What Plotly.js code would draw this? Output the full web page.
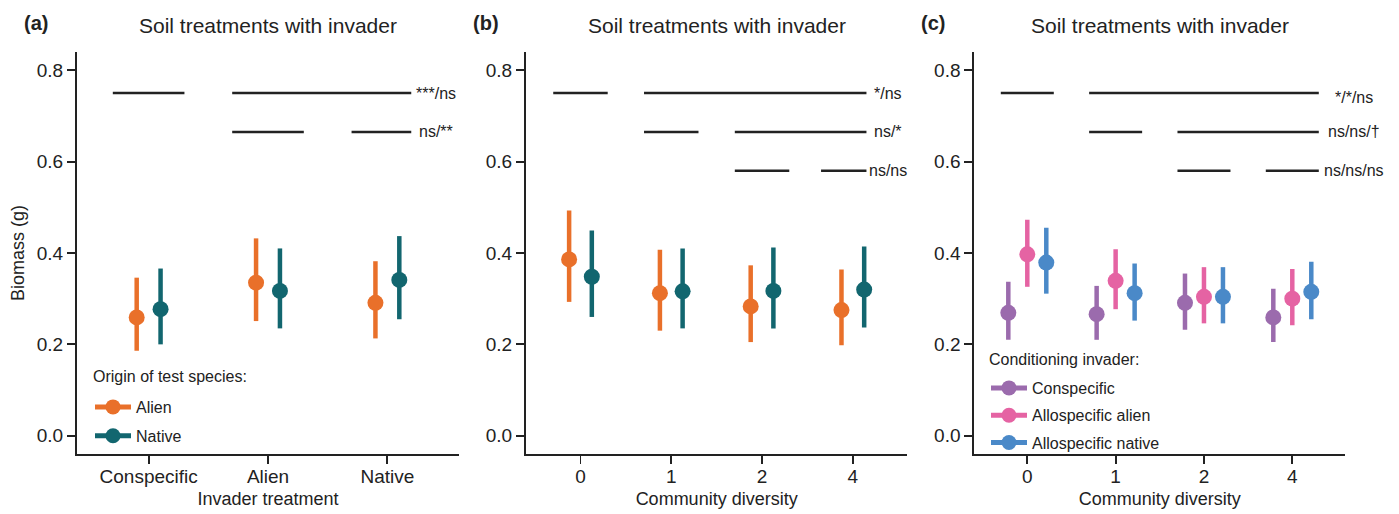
<!DOCTYPE html>
<html>
<head>
<meta charset="utf-8">
<script src="https://cdn.plot.ly/plotly-3.0.1.min.js"></script>
<style>html,body{margin:0;padding:0;background:#fff;}#chart{width:1399px;height:514px;}</style>
</head>
<body>
<div id="chart"></div>
<script>
// ---------- DATA ----------
const catsA = ['Conspecific', 'Alien', 'Native'];
const alienA_mean = [0.259, 0.335, 0.291];
const alienA_lo   = [0.186, 0.251, 0.213];
const alienA_hi   = [0.346, 0.432, 0.382];
const nativeA_mean = [0.277, 0.317, 0.341];
const nativeA_lo   = [0.200, 0.235, 0.255];
const nativeA_hi   = [0.366, 0.410, 0.437];

const catsB = ['0', '1', '2', '4'];
const alienB_mean = [0.386, 0.312, 0.283, 0.275];
const alienB_lo   = [0.293, 0.230, 0.205, 0.198];
const alienB_hi   = [0.493, 0.407, 0.373, 0.364];
const nativeB_mean = [0.348, 0.316, 0.317, 0.320];
const nativeB_lo   = [0.260, 0.235, 0.235, 0.237];
const nativeB_hi   = [0.449, 0.410, 0.412, 0.414];

const catsC = ['0', '1', '2', '4'];
const consC_mean = [0.269, 0.266, 0.291, 0.259];
const consC_lo   = [0.210, 0.210, 0.232, 0.205];
const consC_hi   = [0.337, 0.328, 0.355, 0.322];
const alienC_mean = [0.397, 0.339, 0.304, 0.300];
const alienC_lo   = [0.326, 0.277, 0.246, 0.242];
const alienC_hi   = [0.473, 0.408, 0.369, 0.365];
const nativeC_mean = [0.379, 0.312, 0.304, 0.315];
const nativeC_lo   = [0.311, 0.252, 0.246, 0.255];
const nativeC_hi   = [0.455, 0.377, 0.369, 0.381];

// significance brackets: level (biomass), segments (x from, x to), labels
const sigA_level = [0.75, 0.665];
const sigA_segs = [[[0.7, 1.3], [1.7, 3.2]], [[1.7, 2.3], [2.7, 3.2]]];
const sigA_labels = ['***/ns', 'ns/**'];
const sigB_level = [0.75, 0.665, 0.58];
const sigB_segs = [[[0.7, 1.3], [1.7, 4.15]], [[1.7, 2.3], [2.7, 4.15]], [[2.7, 3.3], [3.65, 4.15]]];
const sigB_labels = ['*/ns', 'ns/*', 'ns/ns'];
const sigC_level = [0.75, 0.665, 0.58];
const sigC_segs = [[[0.7, 1.3], [1.7, 4.3]], [[1.7, 2.3], [2.7, 4.3]], [[2.7, 3.3], [3.7, 4.3]]];
const sigC_labels = ['*/*/ns', 'ns/ns/\u2020', 'ns/ns/ns'];

const panelLabels = ['(a)', '(b)', '(c)'];
const panelTitle = 'Soil treatments with invader';
const legendTitleA = 'Origin of test species:';
const legendTitleC = 'Conditioning invader:';
const seriesA = ['Alien', 'Native'];
const seriesC = ['Conspecific', 'Allospecific alien', 'Allospecific native'];

// ---------- STYLE ----------
const FONT = 'Liberation Sans, Arial, Helvetica, sans-serif';
const TXT = '#222222';
const COL = { orange: '#E9702A', teal: '#12666F', purple: '#9B6BAD', pink: '#E563A3', blue: '#4A89C8' };
const W = 1399, H = 514;
const dom = {
  a: [77 / W, 459 / W],
  b: [526 / W, 907.3 / W],
  c: [974.3 / W, 1345.3 / W]
};
const ydom = [60 / H, 462 / H];

const traces = [];
function pointTrace(n, mean, lo, hi, off, color, xa, ya) {
  const x = mean.map((_, i) => i + 1 + off);
  traces.push({
    type: 'scatter', mode: 'markers', x: x, y: mean, xaxis: xa, yaxis: ya,
    marker: { color: color, size: 16 },
    error_y: { type: 'data', symmetric: false,
      array: hi.map((h, i) => h - mean[i]), arrayminus: lo.map((l, i) => mean[i] - l),
      color: color, thickness: 4.5, width: 0 },
    showlegend: false, hoverinfo: 'x+y', name: n, cliponaxis: false
  });
}
function legendTrace(n, color, xa, ya, leg) {
  traces.push({
    type: 'scatter', mode: 'lines+markers', x: [null], y: [null], xaxis: xa, yaxis: ya,
    name: n, legend: leg, legendgroup: leg + n,
    marker: { color: color, size: 15 }, line: { color: color, width: 5 },
    showlegend: true
  });
}
function sigTraces(levels, segs, xa, ya) {
  levels.forEach((lv, r) => {
    const xs = [], ys = [];
    segs[r].forEach(s => { xs.push(s[0], s[1], null); ys.push(lv, lv, null); });
    traces.push({ type: 'scatter', mode: 'lines', x: xs, y: ys, xaxis: xa, yaxis: ya,
      line: { color: TXT, width: 2.5 }, showlegend: false, hoverinfo: 'skip', cliponaxis: false });
  });
}

// panel a
pointTrace('Alien', alienA_mean, alienA_lo, alienA_hi, -0.1, COL.orange, 'x', 'y');
pointTrace('Native', nativeA_mean, nativeA_lo, nativeA_hi, 0.1, COL.teal, 'x', 'y');
sigTraces(sigA_level, sigA_segs, 'x', 'y');
// panel b
pointTrace('Alien', alienB_mean, alienB_lo, alienB_hi, -0.125, COL.orange, 'x2', 'y2');
pointTrace('Native', nativeB_mean, nativeB_lo, nativeB_hi, 0.125, COL.teal, 'x2', 'y2');
sigTraces(sigB_level, sigB_segs, 'x2', 'y2');
// panel c
pointTrace('Conspecific', consC_mean, consC_lo, consC_hi, -0.215, COL.purple, 'x3', 'y3');
pointTrace('Allospecific alien', alienC_mean, alienC_lo, alienC_hi, 0, COL.pink, 'x3', 'y3');
pointTrace('Allospecific native', nativeC_mean, nativeC_lo, nativeC_hi, 0.215, COL.blue, 'x3', 'y3');
sigTraces(sigC_level, sigC_segs, 'x3', 'y3');
// legends
legendTrace(seriesA[0], COL.orange, 'x', 'y', 'legend');
legendTrace(seriesA[1], COL.teal, 'x', 'y', 'legend');
legendTrace(seriesC[0], COL.purple, 'x3', 'y3', 'legend2');
legendTrace(seriesC[1], COL.pink, 'x3', 'y3', 'legend2');
legendTrace(seriesC[2], COL.blue, 'x3', 'y3', 'legend2');

function xAxis(d, range, cats, title) {
  return {
    domain: d, range: range, tickmode: 'array',
    tickvals: cats.map((_, i) => i + 1), ticktext: cats,
    showline: true, linecolor: TXT, linewidth: 2, ticks: 'outside', ticklen: 8,
    tickwidth: 1.8, tickcolor: TXT, showgrid: false, zeroline: false,
    ticklabelstandoff: -4,
    tickfont: { family: FONT, size: 19, color: TXT },
    title: { text: title, font: { family: FONT, size: 18, color: TXT }, standoff: 7 },
    fixedrange: true
  };
}
function yAxis(title) {
  return {
    domain: ydom, range: [-0.04, 0.84], tickmode: 'array', tickvals: [0, 0.2, 0.4, 0.6, 0.8],
    tickformat: '.1f',
    showline: true, linecolor: TXT, linewidth: 2, ticks: 'outside', ticklen: 8,
    tickwidth: 1.8, tickcolor: TXT, showgrid: false, zeroline: false,
    tickfont: { family: FONT, size: 19, color: TXT },
    title: { text: title, font: { family: FONT, size: 18, color: TXT }, standoff: 7 },
    fixedrange: true
  };
}

const xa = xAxis(dom.a, [0.4, 3.6], catsA, 'Invader treatment'); xa.anchor = 'y';
const xb = xAxis(dom.b, [0.4, 4.6], catsB, 'Community diversity'); xb.anchor = 'y2';
const xc = xAxis(dom.c, [0.4, 4.6], catsC, 'Community diversity'); xc.anchor = 'y3';
const ya = yAxis('Biomass (g)'); ya.anchor = 'x';
const yb = yAxis(''); yb.anchor = 'x2';
const yc = yAxis(''); yc.anchor = 'x3';

const annotations = [];
// titles and panel labels
[dom.a, dom.b, dom.c].forEach((d, i) => {
  annotations.push({ xref: 'paper', yref: 'paper', x: (d[0] + d[1]) / 2, y: (H - 25) / H,
    xanchor: 'center', yanchor: 'middle', text: panelTitle, showarrow: false,
    font: { family: FONT, size: 21, color: TXT } });
});
[22, 471, 919].forEach((px, i) => {
  annotations.push({ xref: 'paper', yref: 'paper', x: px / W, y: (H - 23) / H,
    xanchor: 'left', yanchor: 'middle', text: '<b>' + panelLabels[i] + '</b>', showarrow: false,
    font: { family: FONT, size: 20, color: TXT } });
});
// legend titles
annotations.push({ xref: 'paper', yref: 'paper', x: 91 / W, y: (H - 376) / H, xanchor: 'left', yanchor: 'middle',
  text: legendTitleA, showarrow: false, font: { family: FONT, size: 16, color: TXT } });
annotations.push({ xref: 'paper', yref: 'paper', x: 987 / W, y: (H - 359) / H, xanchor: 'left', yanchor: 'middle',
  text: legendTitleC, showarrow: false, font: { family: FONT, size: 16, color: TXT } });
// significance labels (placed in paper coords, just right of the brackets)
function sigLabels(levels, labels, xpos, d, rng, yr, shift0) {
  const px = d[0] + (xpos - rng[0]) / (rng[1] - rng[0]) * (d[1] - d[0]);
  levels.forEach((lv, r) => {
    annotations.push({ xref: 'paper', yref: yr, x: px, y: lv, text: labels[r], showarrow: false,
      yshift: r === 0 ? shift0 : 0,
      xanchor: 'center', yanchor: 'middle', font: { family: FONT, size: 16, color: TXT } });
  });
}
sigLabels(sigA_level, sigA_labels, 3.41, dom.a, [0.4, 3.6], 'y', 0);
sigLabels(sigB_level, sigB_labels, 4.39, dom.b, [0.4, 4.6], 'y2', 0);
sigLabels(sigC_level, sigC_labels, 4.70, dom.c, [0.4, 4.6], 'y3', -4);

const legendBase = {
  xanchor: 'left', yanchor: 'top', bgcolor: 'rgba(0,0,0,0)', borderwidth: 0,
  font: { family: FONT, size: 16, color: TXT }, tracegroupgap: 5, itemclick: false, itemdoubleclick: false,
  itemwidth: 36
};

const layout = {
  width: W, height: H, margin: { l: 0, r: 0, t: 0, b: 0 },
  paper_bgcolor: '#ffffff', plot_bgcolor: '#ffffff',
  font: { family: FONT, color: TXT },
  showlegend: true,
  xaxis: xa, yaxis: ya, xaxis2: xb, yaxis2: yb, xaxis3: xc, yaxis3: yc,
  legend: Object.assign({}, legendBase, { x: 90 / W, y: (H - 390) / H }),
  legend2: Object.assign({}, legendBase, { x: 986 / W, y: (H - 371) / H, tracegroupgap: 3.5 }),
  annotations: annotations
};

Plotly.newPlot('chart', traces, layout, { staticPlot: true, displayModeBar: false });
</script>
</body>
</html>
